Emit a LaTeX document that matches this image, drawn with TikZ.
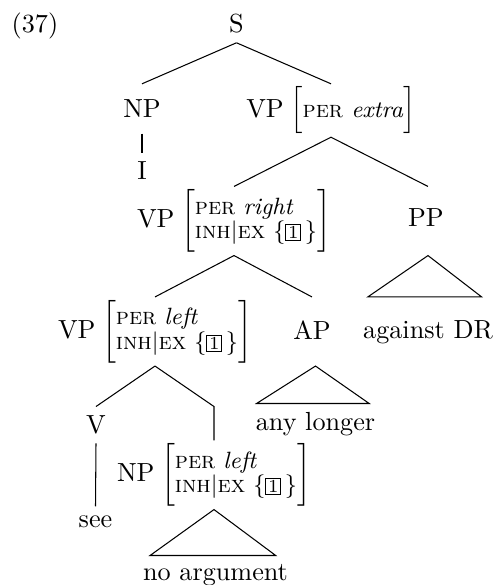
\documentclass[tikz,border=0pt]{standalone}
\usetikzlibrary{positioning}

\newcommand{\tagone}{{\setlength{\fboxsep}{0.6pt}\fbox{\scriptsize 1}}}
\newcommand{\perval}[1]{\textsc{per} \textit{#1}}
\newcommand{\inhex}{\textsc{inh}$|$\textsc{ex} $\{$\tagone\,$\}$}
\newcommand{\avmone}[1]{$\Bigl[${\small\perval{#1}}$\Bigr]$}
\newcommand{\avmtwo}[1]{$\biggl[${\small\renewcommand{\arraystretch}{0.8}%
    \begin{tabular}{@{}l@{}}\perval{#1}\\\inhex\end{tabular}}$\biggr]$}

\begin{document}
\begin{tikzpicture}[x=0.382pt, y=-0.382pt,
    avm/.style={inner sep=1pt}]
\useasboundingbox (0,0) rectangle (495,585);
\node (ex) at (35,26) {(37)};
\node (s) at (236.5,24) {S};
\node (np) at (142,109) {NP};
\node[avm] (vpx) at (331,110.5) {VP\hspace{2.5pt}\avmone{extra}};
\draw (s.south) -- (np |- vpx.north);
\draw (s.south) -- (vpx.north);
\node (i) at (142,171) {I};
\draw[shorten <=2.5pt] (np.south) -- (i.north);

\node[avm] (vpr) at (234,221) {VP\hspace{2.5pt}\avmtwo{right}};
\node (pp) at (426,218) {PP};
\node (dr) at (428,332) {against DR};
\draw (vpx.south) -- (vpr.north);
\draw (vpx.south) -- (dr |- vpr.north);

\node[avm] (vpl) at (155,331.5) {VP\hspace{2.5pt}\avmtwo{left}};
\node (ap) at (312,330) {AP};
\draw (vpr.south) -- (vpl.north);
\draw (vpr.south) -- (ap |- vpl.north);
% triangle under PP
\draw (dr |- vpr.south) -- ([xshift=-23pt]dr |- vpl.north)
    -- ([xshift=20.5pt]dr |- vpl.north) -- cycle;

\node (v) at (96,425) {V};
\node (any) at (315.5,424.5) {any longer};
\draw (any |- vpl.south) -- ([xshift=-22.5pt]any.north)
    -- ([xshift=20.5pt]any.north) -- cycle;

\node[avm] (npl) at (214,475) {NP\hspace{2.5pt}\avmtwo{left}};
\draw (vpl.south) -- (v.north);
\draw (vpl.south) -- (npl.north |- v.north) -- (npl.north);
\node (see) at (95.5,521.5) {see};
\draw (v.south) -- (see.north);

\node (noarg) at (215.5,575.5) {no argument};
\draw (npl.south) -- ([xshift=-25pt]noarg.north)
    -- ([xshift=23pt]noarg.north) -- cycle;
\end{tikzpicture}
\end{document}
